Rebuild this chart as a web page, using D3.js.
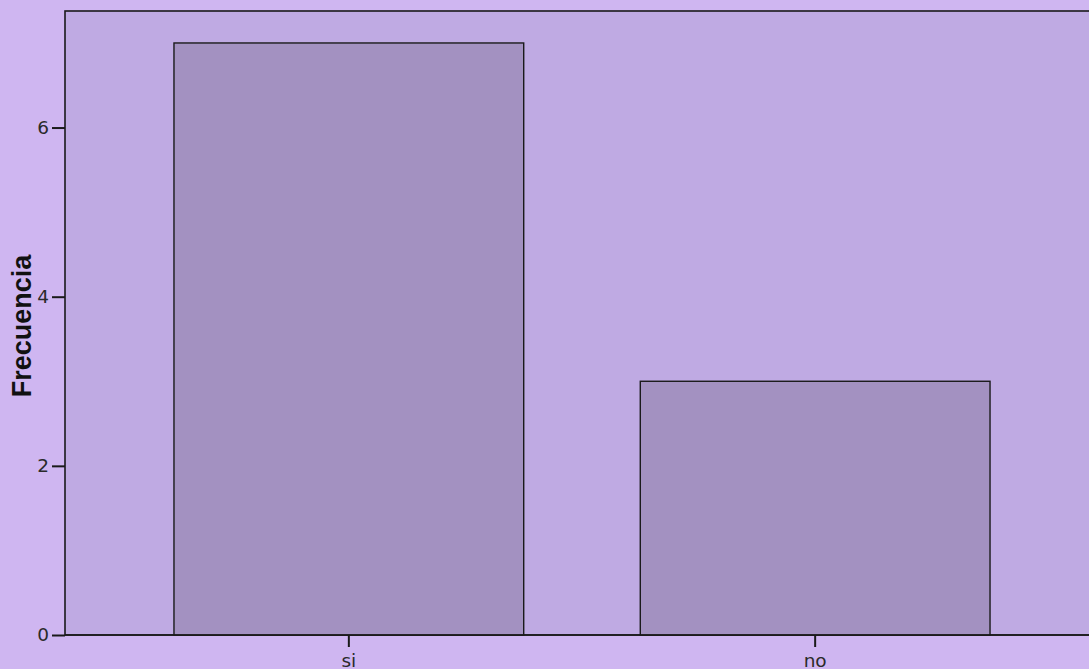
<!DOCTYPE html>
<html>
<head>
<meta charset="utf-8">
<script src="https://cdn.jsdelivr.net/npm/d3@7"></script>
<style>
  html, body { margin: 0; padding: 0; background: #cfb6f1; overflow: hidden; }
  svg { display: block; }
</style>
</head>
<body>
<svg></svg>
<script>
const categories = ["si", "no"];
const frequencies = [7, 3];
const yTicks = [0, 2, 4, 6];

const width = 1089;
const height = 669;

const margin = {top: 11, right: -10, bottom: 34, left: 65};

const svg = d3.select("svg")
  .attr("width", width)
  .attr("height", height);

const x = d3.scaleBand()
  .domain(categories)
  .range([margin.left, width - margin.right])
  .paddingInner(0.25)
  .paddingOuter(0.2337);

const y = d3.scaleLinear()
  .domain([0, 7.378])
  .range([height - margin.bottom, margin.top]);

// plot area
svg.append("rect")
  .attr("x", margin.left)
  .attr("y", margin.top)
  .attr("width", width - margin.right - margin.left)
  .attr("height", height - margin.bottom - margin.top)
  .attr("fill", "#bfaae3")
  .attr("stroke", "#1a1a1a")
  .attr("stroke-width", 1.6);

// bars
svg.selectAll(".bar")
  .data(categories)
  .join("rect")
  .attr("class", "bar")
  .attr("x", d => x(d))
  .attr("y", (d, i) => y(frequencies[i]))
  .attr("width", x.bandwidth())
  .attr("height", (d, i) => y(0) - y(frequencies[i]))
  .attr("fill", "#a391c1")
  .attr("stroke", "#1a1a1a")
  .attr("stroke-width", 1.4);

// y axis
const yAxis = svg.append("g")
  .attr("transform", `translate(${margin.left},0)`)
  .call(d3.axisLeft(y).tickValues(yTicks).tickSize(13).tickPadding(3).tickFormat(d3.format("d")));

yAxis.select(".domain").remove();
yAxis.selectAll(".tick line").attr("stroke", "#1a1a1a").attr("stroke-width", 2);
yAxis.selectAll(".tick text")
  .style("font-family", "'DejaVu Sans', sans-serif")
  .style("font-size", "18.5px")
  .attr("fill", "#2a2a2a");

// x axis
const xAxis = svg.append("g")
  .attr("transform", `translate(0,${height - margin.bottom})`)
  .call(d3.axisBottom(x).tickSize(12).tickPadding(9));

xAxis.select(".domain").remove();
xAxis.selectAll(".tick line").attr("stroke", "#1a1a1a").attr("stroke-width", 2);
xAxis.selectAll(".tick text")
  .attr("dy", null)
  .attr("y", 31.5)
  .style("font-family", "'DejaVu Sans', sans-serif")
  .style("font-size", "18.5px")
  .attr("fill", "#2a2a2a");

// bottom axis line over bars
svg.append("line")
  .attr("x1", margin.left)
  .attr("x2", width)
  .attr("y1", y(0))
  .attr("y2", y(0))
  .attr("stroke", "#1a1a1a")
  .attr("stroke-width", 1.6);

// y label
svg.append("text")
  .attr("transform", `translate(31, 326) rotate(-90)`)
  .attr("text-anchor", "middle")
  .style("font-family", "'Liberation Sans', Arial, sans-serif")
  .style("font-size", "27px")
  .style("font-weight", "bold")
  .attr("fill", "#111")
  .text("Frecuencia");
</script>
</body>
</html>
